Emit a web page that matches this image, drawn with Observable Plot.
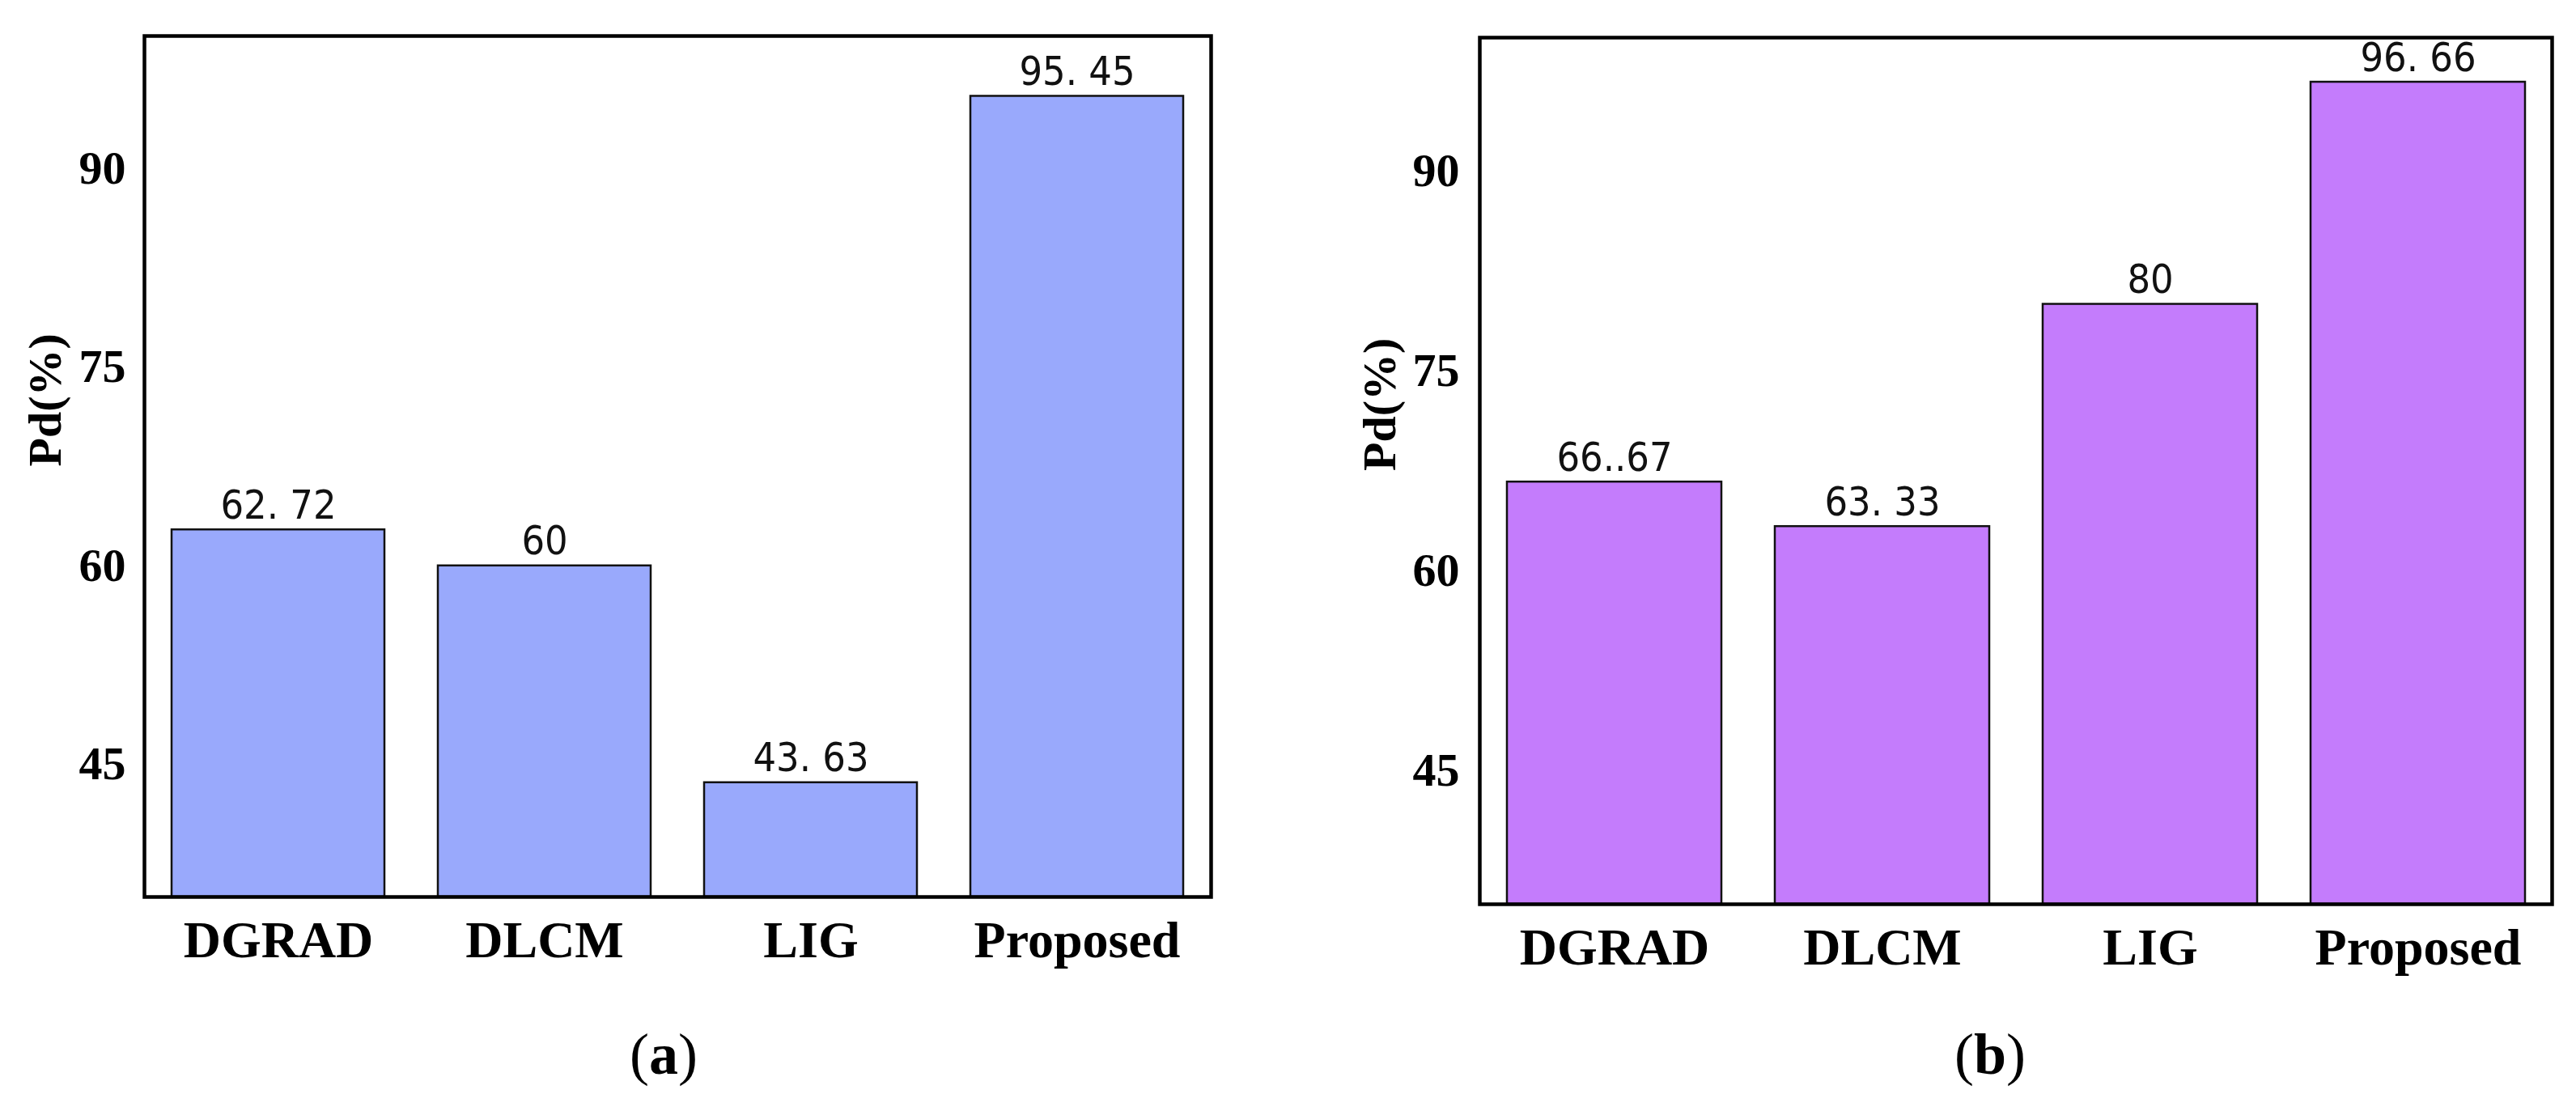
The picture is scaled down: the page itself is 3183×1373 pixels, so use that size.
<!DOCTYPE html>
<html>
<head>
<meta charset="utf-8">
<script src="https://cdn.jsdelivr.net/npm/d3@7"></script>
<script src="https://cdn.jsdelivr.net/npm/@observablehq/plot@0.6"></script>
<style>
  html, body { margin: 0; padding: 0; background: #ffffff; }
  #page { position: relative; width: 3183px; height: 1373px; background: #ffffff; overflow: hidden; }
  .panel { position: absolute; top: 0; }
  .caption { position: absolute; font-family: "Liberation Serif", "Times New Roman", serif; font-size: 72px; line-height: 72px; color: #000; transform: translateX(-50%); white-space: nowrap; }
</style>
</head>
<body>
<div id="page">
  <div id="panelA" class="panel" style="left:0px"></div>
  <div id="panelB" class="panel" style="left:1600px"></div>
  <div class="caption" style="left:820px; top:1267px">(<b>a</b>)</div>
  <div class="caption" style="left:2459px; top:1267px">(<b>b</b>)</div>
</div>
<script>
// ---- data ----
const methods = ["DGRAD", "DLCM", "LIG", "Proposed"];
const valuesA = [62.72, 60, 43.63, 95.45];
const labelsA = ["62. 72", "60", "43. 63", "95. 45"];
const valuesB = [66.67, 63.33, 80, 96.66];
const labelsB = ["66..67", "63. 33", "80", "96. 66"];
const yTicks = [45, 60, 75, 90];
const yDomain = [35, 100];
const yLabel = "Pd(%)";

function makePanel(values, labels, fill, opts) {
  const data = methods.map((m, i) => ({method: m, value: values[i], label: labels[i]}));
  return Plot.plot({
    width: opts.width,
    height: opts.height,
    marginLeft: opts.ml,
    marginRight: opts.mr,
    marginTop: opts.mt,
    marginBottom: opts.mb,
    style: {fontFamily: "'Liberation Serif', 'Times New Roman', serif", background: "#ffffff", color: "#000", overflow: "visible"},
    x: {domain: methods, paddingInner: 0.2, paddingOuter: 0.1},
    y: {domain: yDomain},
    marks: [
      Plot.barY(data, {x: "method", y1: yDomain[0], y2: "value", fill: fill, stroke: "#111", strokeWidth: 2.5}),
      Plot.text(data, {x: "method", y: "value", text: "label", lineAnchor: "bottom", dy: -14,
        fontFamily: "'Liberation Sans Narrow', 'DejaVu Sans Condensed', sans-serif", fontSize: 50, fill: "#111"}),
      Plot.axisX({tickSize: 0, tickPadding: 29, fontSize: 64, fontWeight: "bold", label: null}),
      Plot.axisY({ticks: yTicks, tickSize: 0, tickPadding: opts.tp, fontSize: 58, fontWeight: "bold", label: null}),
      Plot.text([yLabel], {frameAnchor: "left", dx: opts.ldx, rotate: -90, fontSize: 58, fontWeight: "bold"}),
      Plot.frame({stroke: "#000", strokeWidth: 4.5})
    ]
  });
}

document.getElementById("panelA").append(
  makePanel(valuesA, labelsA, "#99a9fc", {width: 1600, height: 1250, ml: 178, mr: 104, mt: 44, mb: 142, tp: 23, ldx: -122})
);
document.getElementById("panelB").append(
  makePanel(valuesB, labelsB, "#c47cfc", {width: 1583, height: 1250, ml: 228, mr: 30, mt: 46, mb: 133, tp: 25, ldx: -123})
);
</script>
</body>
</html>
